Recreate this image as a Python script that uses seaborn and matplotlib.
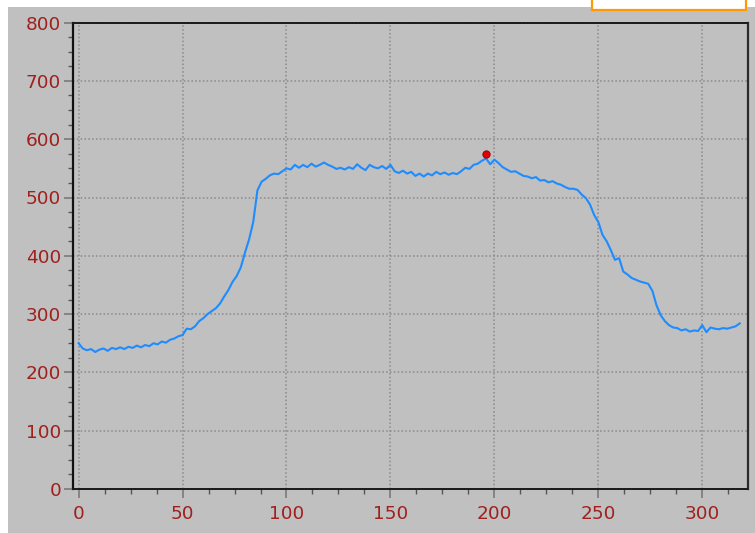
import numpy as np
import pandas as pd
import matplotlib
matplotlib.use("Agg")
import matplotlib.pyplot as plt
from matplotlib.patches import Rectangle
from matplotlib.ticker import MultipleLocator
import seaborn as sns

# ---- data ----
x_vals = list(range(0, 320, 2))
y_vals = [
    250, 241, 238, 240, 235, 239, 241, 237, 242, 240,
    243, 240, 244, 242, 246, 243, 247, 245, 250, 248,
    253, 251, 256, 258, 262, 264, 275, 274, 279, 288,
    293, 300, 305, 310, 318, 330, 341, 355, 365, 380,
    405, 428, 458, 512, 527, 532, 538, 541, 540, 545,
    550, 548, 556, 551, 556, 552, 558, 553, 556, 560,
    556, 553, 549, 551, 548, 552, 549, 557, 551, 547,
    556, 552, 550, 554, 549, 556, 545, 542, 546, 541,
    544, 537, 541, 536, 541, 538, 544, 540, 543, 539,
    542, 540, 545, 551, 549, 556, 558, 563, 567, 557,
    565, 559, 552, 548, 544, 545, 541, 537, 536, 533,
    535, 529, 530, 526, 528, 524, 522, 518, 515, 515,
    513, 505, 499, 488, 470, 458, 436, 425, 410, 393,
    396, 373, 368, 362, 359, 356, 354, 352, 340, 315,
    298, 288, 281, 277, 276, 272, 274, 270, 272, 271,
    281, 269, 277, 275, 274, 276, 275, 277, 279, 284,
]
peak_x = [196]
peak_y = [575]
x_ticks = [0, 50, 100, 150, 200, 250, 300]
y_ticks = [0, 100, 200, 300, 400, 500, 600, 700, 800]

df = pd.DataFrame({"x": x_vals, "y": y_vals})
peak = pd.DataFrame({"x": peak_x, "y": peak_y})

W, H = 755, 533
fig = plt.figure(figsize=(W / 100, H / 100), dpi=100)
fig.patch.set_facecolor("white")
fig.patches.append(Rectangle((8 / W, 0), 1 - 8 / W, 1 - 7 / H, transform=fig.transFigure,
                             facecolor="#c0c0c0", edgecolor="none", zorder=-10))
fig.patches.append(Rectangle((592 / W, 1 - 10 / H), 154 / W, 12 / H, transform=fig.transFigure,
                             facecolor="white", edgecolor="#ff9a00", linewidth=1.6, zorder=10))

ax = fig.add_axes([73 / W, 1 - 489 / H, (748 - 73) / W, (489 - 22.6) / H])
ax.set_zorder(1)
ax.set_facecolor("#c0c0c0")

sns.lineplot(data=df, x="x", y="y", ax=ax, color="#1e8cff", linewidth=1.5, zorder=3)
sns.scatterplot(data=peak, x="x", y="y", ax=ax, color="#e00000", edgecolor="#800000",
                s=28, linewidth=0.6, zorder=4)

ax.set_xlim(-2.7, 322)
ax.set_ylim(0, 800)
ax.set_xticks(x_ticks)
ax.set_yticks(y_ticks)
ax.xaxis.set_minor_locator(MultipleLocator(12.5))
ax.yaxis.set_minor_locator(MultipleLocator(25))
ax.set_xlabel("")
ax.set_ylabel("")

ax.grid(True, which="major", color="#8a8a8a", linestyle=(0, (1.0, 1.5)), linewidth=1.1, zorder=1)
ax.set_axisbelow(True)

lab_color = "#a0201e"
ax.tick_params(axis="both", which="major", length=6.5, width=1.2, color="#7a7a7a",
               labelcolor=lab_color, labelsize=13.3)
ax.tick_params(axis="both", which="minor", length=3.5, width=1.0, color="#555555")
ax.tick_params(axis="y", which="major", pad=2)
ax.tick_params(axis="x", which="major", pad=5)
for lab in ax.get_xticklabels() + ax.get_yticklabels():
    lab.set_family("DejaVu Sans")

ax.spines["left"].set_color("#111111")
ax.spines["left"].set_linewidth(1.6)
ax.spines["right"].set_color("#2a2a2a")
ax.spines["right"].set_linewidth(1.6)
for s in ("top", "bottom"):
    ax.spines[s].set_color("#1a1a1a")
    ax.spines[s].set_linewidth(1.4)
    ax.spines[s].set_linestyle((0, (1, 0.8)))

fig.savefig("out.png", dpi=100, facecolor=fig.get_facecolor())
